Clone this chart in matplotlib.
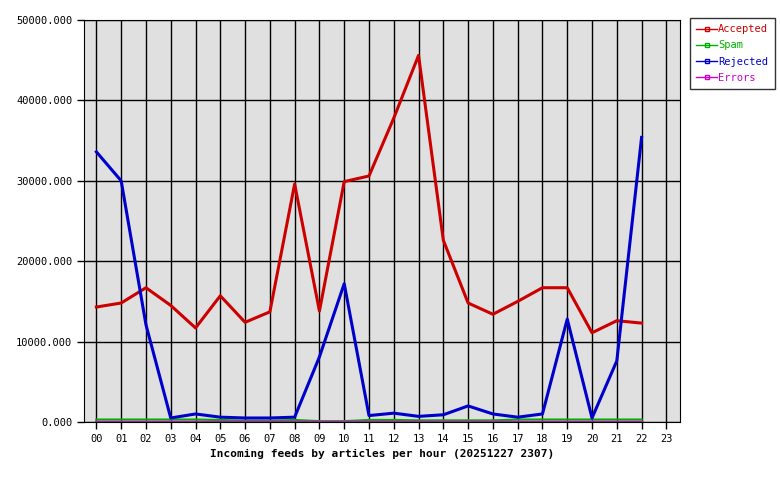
import numpy as np
import matplotlib
matplotlib.use("Agg")
from matplotlib import pyplot as plt

# hourly values
hours = ["%02d" % h for h in range(24)]
accepted = [14300, 14800, 16700, 14500, 11700, 15700, 12400, 13700, 29600, 13800, 29900, 30600,
            37800, 45600, 22600, 14800, 13400, 15000, 16700, 16700, 11100, 12600, 12300]
spam = [300, 300, 300, 300, 300, 250, 150, 150, 250, 100, 100, 250,
        250, 200, 200, 200, 200, 300, 300, 300, 300, 300, 300]
rejected = [33600, 30000, 12100, 500, 1000, 600, 500, 500, 600, 8100, 17200, 800,
            1100, 700, 900, 2000, 1000, 600, 1000, 12800, 500, 7600, 35400]
errors = [50] * 23

plt.rcParams['font.family'] = ['DejaVu Sans Mono']
fig = plt.figure(figsize=(7.8, 4.8), dpi=100)
ax = fig.add_axes([84/780, 58/480, 596/780, 402/480])
ax.set_facecolor("#e0e0e0")

x = np.arange(len(accepted))
ax.plot(x, spam, color="#00b000", lw=1.6, label="Spam", zorder=3)
ax.plot(x, errors, color="#cc00cc", lw=1.6, label="Errors", zorder=3)
ax.plot(x, accepted, color="#cc0000", lw=2.2, label="Accepted", zorder=4)
ax.plot(x, rejected, color="#0000cc", lw=2.2, label="Rejected", zorder=5)

ax.set_xlim(-0.5, 23.55)
ax.set_ylim(0, 50000)
ax.set_xticks(range(24))
ax.set_xticklabels(hours, fontsize=7.5)
ax.set_yticks(range(0, 50001, 10000))
ax.set_yticklabels(["%.3f" % v for v in range(0, 50001, 10000)], fontsize=7.5)
ax.grid(True, color="black", lw=1)
ax.set_axisbelow(True)
ax.tick_params(length=5, width=1, color="black")
for s in ax.spines.values():
    s.set_color("black")
ax.set_xlabel("Incoming feeds by articles per hour (20251227 2307)", fontsize=8,
              fontweight="bold", labelpad=4)

# legend with the little square markers in the line
h, l = ax.get_legend_handles_labels()
order = [2, 0, 3, 1]
handles = []
for i in order:
    ln = plt.Line2D([], [], color=h[i].get_color(), lw=1, marker="s", markersize=2.5,
                    markerfacecolor="none", markeredgecolor=h[i].get_color())
    handles.append(ln)
leg = ax.legend(handles, [l[i] for i in order], loc="upper left", bbox_to_anchor=(1.017, 1.005),
                fontsize=7.5, frameon=True, fancybox=False, edgecolor="black", handlelength=2.0,
                handletextpad=0.1, borderpad=0.6, labelspacing=0.6, borderaxespad=0)
leg.get_frame().set_linewidth(1)
for t, hh in zip(leg.get_texts(), handles):
    t.set_color(hh.get_color())

fig.savefig("out.png", dpi=100)
